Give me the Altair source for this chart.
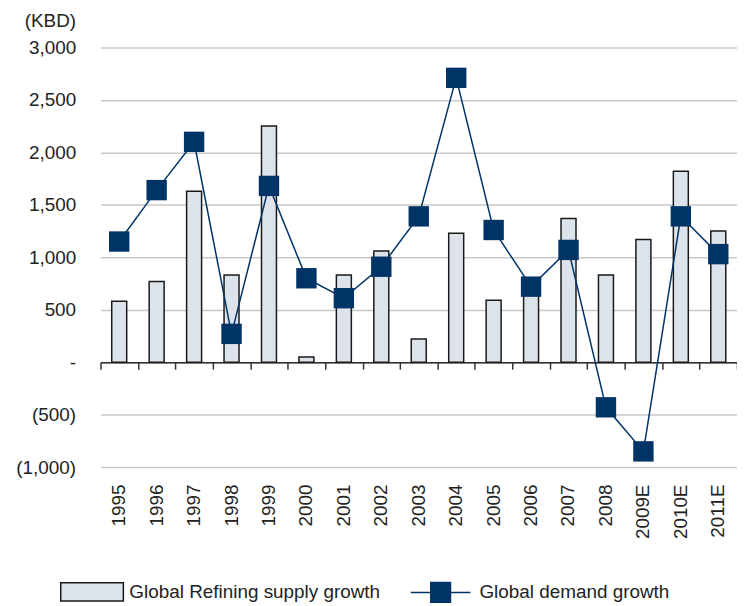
import altair as alt
import pandas as pd

years = ["1995", "1996", "1997", "1998", "1999", "2000", "2001", "2002", "2003",
         "2004", "2005", "2006", "2007", "2008", "2009E", "2010E", "2011E"]
supply = [580, 770, 1630, 830, 2250, 50, 830, 1060, 220, 1230, 590, 700, 1370, 830, 1170, 1820, 1250]
demand = [1150, 1640, 2100, 270, 1680, 800, 610, 910, 1390, 2710, 1260, 720, 1070, -430, -850, 1390, 1030]
y_ticks = [-1000, -500, 0, 500, 1000, 1500, 2000, 2500, 3000]

supply_label = "Global Refining supply growth"
demand_label = "Global demand growth"

df = pd.DataFrame({"year": years, "supply": supply, "demand": demand,
                   "s_series": supply_label, "d_series": demand_label})

FONT = "Liberation Sans, Arial, sans-serif"
TXT = "#222222"
NAVY = "#003366"
BARFILL = "#dce3ea"

xscale = alt.Scale(domain=years, paddingInner=0, paddingOuter=0)
yscale = alt.Scale(domain=[-1000, 3000], nice=False, zero=False)

x_labels_axis = alt.Axis(title=None, labelAngle=-90, labelPadding=17, domain=False,
                         ticks=False, grid=False, labelFont=FONT, labelFontSize=19,
                         labelColor=TXT)
x_zero_axis = alt.Axis(title=None, orient="bottom", offset=-105.5, labels=False,
                       domain=True, domainColor="#333333", domainWidth=1.5,
                       ticks=True, tickColor="#333333", tickWidth=1.5, tickSize=7,
                       tickBand="extent", grid=False)

label_expr = ("datum.value == 0 ? '-' : (datum.value < 0 ? '(' + format(-datum.value, ',') + ')'"
              " : format(datum.value, ','))")
yaxis = alt.Axis(title="(KBD)", titleAngle=0, titleAlign="right", titleBaseline="alphabetic",
                 titleX=-25, titleY=-21, titleFont=FONT, titleFontSize=19,
                 titleFontWeight="normal", titleColor=TXT, values=y_ticks,
                 labelExpr=label_expr, labelPadding=25, ticks=False, domain=False,
                 grid=True, gridColor="#c8c8c8", gridWidth=1.5, labelFont=FONT,
                 labelFontSize=19, labelColor=TXT)

bars = alt.Chart(df).mark_bar(width=alt.RelativeBandSize(0.4), stroke="#1a1a1a",
                              strokeWidth=1.5).encode(
    x=alt.X("year:N", sort=years, scale=xscale, axis=x_labels_axis),
    y=alt.Y("supply:Q", scale=yscale, axis=yaxis),
    fill=alt.Fill("s_series:N",
                  scale=alt.Scale(range=[BARFILL]),
                  legend=alt.Legend(title=None, orient="none", legendX=-41, legendY=515,
                                    symbolType="M-1,-0.29H1V0.29H-1Z", symbolSize=3969,
                                    symbolStrokeColor="#1a1a1a", symbolStrokeWidth=1.5,
                                    symbolFillColor=BARFILL, labelLimit=0,
                                    labelOffset=5, labelFont=FONT, labelFontSize=19,
                                    labelColor=TXT, padding=0)),
)

demand_color = alt.Color("d_series:N",
                         scale=alt.Scale(range=[NAVY]),
                         legend=alt.Legend(title=None, orient="none", legendX=311, legendY=517,
                                           symbolType="M-1,0H1M-0.33,-0.33H0.33V0.33H-0.33Z",
                                           symbolSize=3600, symbolStrokeWidth=1.5,
                                           symbolStrokeColor=NAVY, symbolFillColor=NAVY,
                                           labelLimit=0,
                                           labelOffset=8, labelFont=FONT, labelFontSize=19,
                                           labelColor=TXT, padding=0))

line = alt.Chart(df).mark_line(strokeWidth=1.5).encode(
    x=alt.X("year:N", sort=years, scale=xscale, axis=x_zero_axis),
    y=alt.Y("demand:Q", scale=yscale, axis=yaxis),
    color=demand_color,
)
points = alt.Chart(df).mark_point(shape="square", filled=True, size=420, opacity=1).encode(
    x=alt.X("year:N", sort=years, scale=xscale, axis=x_zero_axis),
    y=alt.Y("demand:Q", scale=yscale, axis=yaxis),
    color=demand_color,
)

demand_layer = alt.layer(line, points)

chart = alt.layer(bars, demand_layer).resolve_axis(x="independent").properties(
    width=640, height=422,
    padding={"left": 93, "top": 38, "right": 0, "bottom": 137},
    autosize=alt.AutoSizeParams(type="none"),
    background="white",
).configure_view(stroke=None)

chart.save("out.html", embed_options={"renderer": "svg", "actions": False})
